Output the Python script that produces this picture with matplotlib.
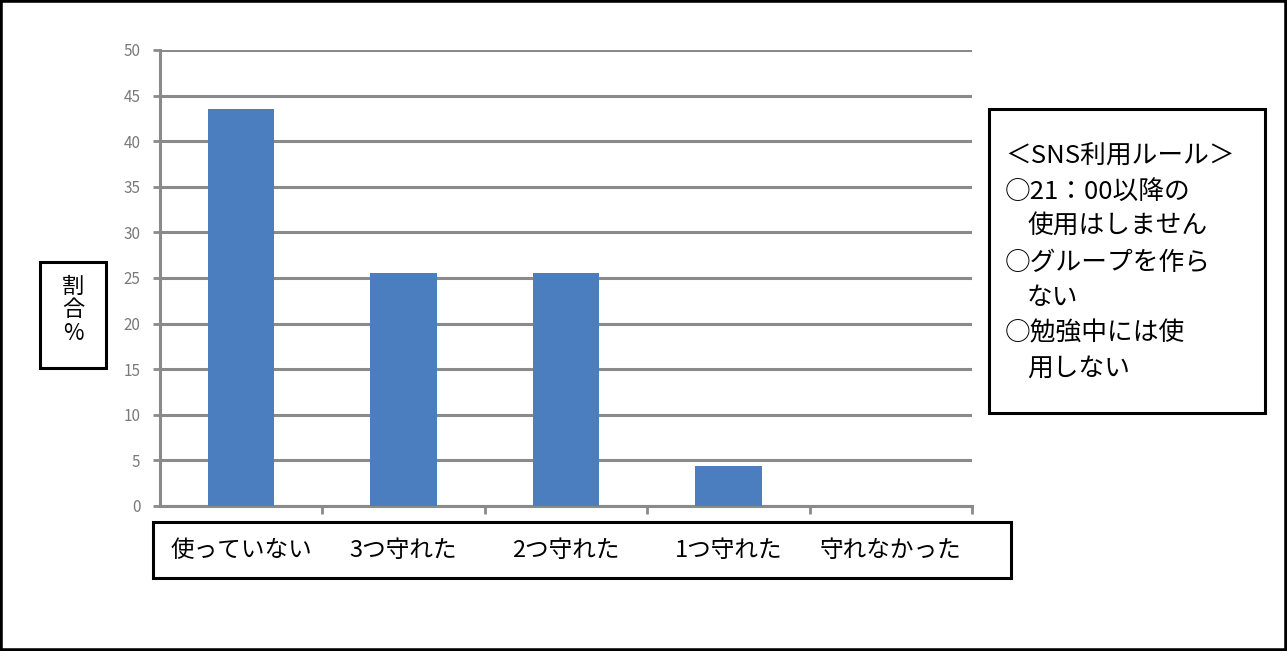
import matplotlib
matplotlib.use("Agg")
import matplotlib.pyplot as plt
from matplotlib.patches import Rectangle

plt.rcParams['font.family'] = ['Noto Sans CJK JP', 'DejaVu Sans']

# data
categories = ["使っていない", "3つ守れた", "2つ守れた", "1つ守れた", "守れなかった"]
values = [43.5, 25.6, 25.6, 4.4, 0]
yticks = [0, 5, 10, 15, 20, 25, 30, 35, 40, 45, 50]
ylabel_chars = ["割", "合", "%"]
rule_lines = ["＜SNS利用ルール＞", "○21：00以降の", "使用はしません",
              "○グループを作ら", "ない", "○勉強中には使", "用しない"]
rule_indent = [False, False, True, False, True, False, True]

W, H = 1287, 651
fig = plt.figure(figsize=(W / 100, H / 100), dpi=100)
fig.patch.set_facecolor("white")

grid_col = "#8a8a8a"
ax = fig.add_axes([160 / W, 1 - 506 / H, (972 - 160) / W, (506 - 50) / H])
x = list(range(len(categories)))
ax.bar(x, values, width=0.41, color="#4a7ebf", zorder=3)
ax.set_xlim(-0.5, len(categories) - 0.5)
ax.set_ylim(0, 50)
ax.set_yticks(yticks)
ax.yaxis.grid(True, color=grid_col, linewidth=2.2, zorder=1)
for s in ["top", "right"]:
    ax.spines[s].set_visible(False)
for s in ["left", "bottom"]:
    ax.spines[s].set_color(grid_col)
    ax.spines[s].set_linewidth(2.2)
ax.tick_params(axis="y", direction="out", length=5, width=2, color=grid_col,
               labelcolor="#7a7a7a", labelsize=11, pad=9)

# category labels as major ticks, boundaries as minor ticks
ax.set_xticks(x)
ax.set_xticklabels(categories, fontsize=17, color="black")
ax.set_xticks([i + 0.5 for i in x], minor=True)
ax.tick_params(axis="x", which="major", length=0, pad=24)
ax.tick_params(axis="x", which="minor", direction="out", length=6, width=2,
               color=grid_col)

# boxes drawn in pixel coords
def box(x0, y0, x1, y1, lw=2.2):
    fig.patches.append(Rectangle((x0 / W, 1 - y1 / H), (x1 - x0) / W, (y1 - y0) / H,
                                 transform=fig.transFigure, fill=False,
                                 edgecolor="black", linewidth=lw))

box(153, 522, 1011, 578)
box(40, 262, 106, 368)
box(989, 109, 1265, 413)
fig.patches.append(Rectangle((0, 0), 1, 1, transform=fig.transFigure, fill=False,
                             edgecolor="black", linewidth=4))

# y label
for i, ch in enumerate(ylabel_chars):
    fig.text(73 / W, 1 - (286 + i * 24) / H, ch, fontsize=16, ha="center", va="center")

# rules box text
for i, (line, ind) in enumerate(zip(rule_lines, rule_indent)):
    fig.text((1027 if ind else 1005) / W, 1 - (156 + i * 35.5) / H, line,
             fontsize=18.5, ha="left", va="center")

fig.savefig("out.png", dpi=100)
